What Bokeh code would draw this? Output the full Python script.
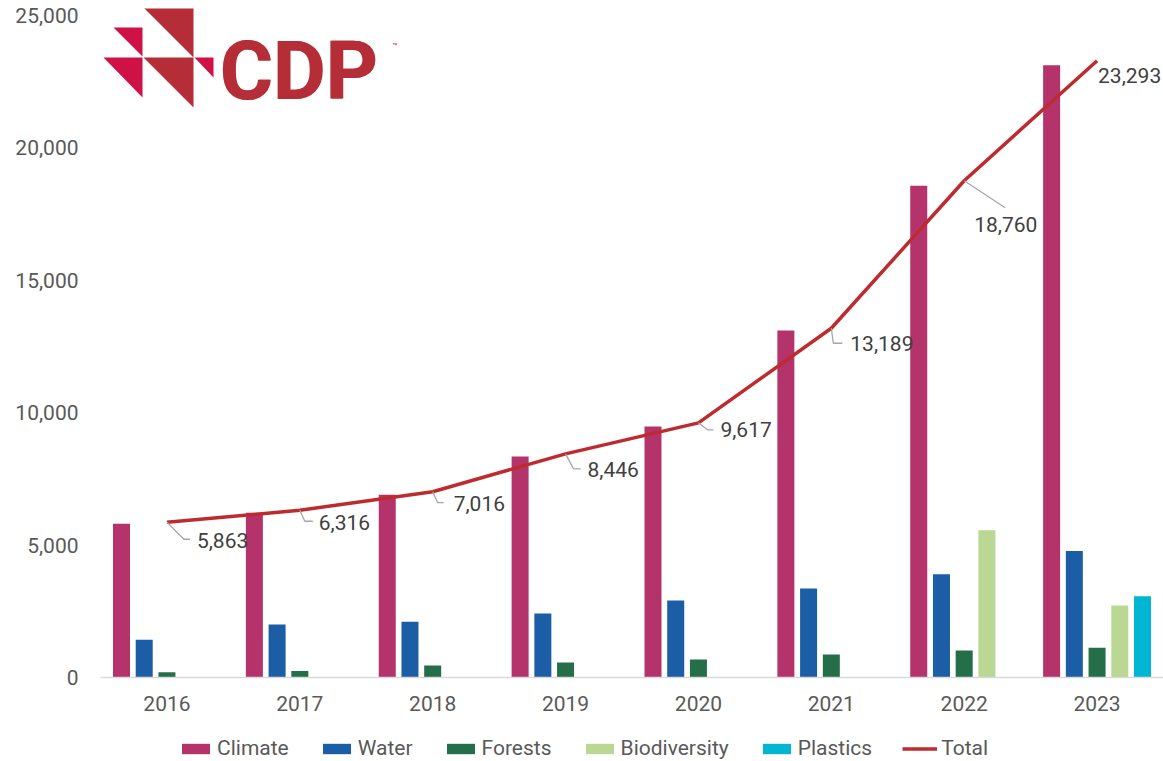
from bokeh.plotting import figure
from bokeh.layouts import column
from bokeh.models import (Range1d, FixedTicker, NumeralTickFormatter, Legend, LegendItem,
                          ColumnDataSource, CustomJSTickFormatter)
from bokeh.embed import file_html
from bokeh.resources import INLINE
from bokeh.core.properties import value

# ---------------- data ----------------
years = ["2016", "2017", "2018", "2019", "2020", "2021", "2022", "2023"]
climate = [5810, 6220, 6900, 8350, 9480, 13100, 18570, 23120]
water = [1430, 2000, 2110, 2420, 2910, 3360, 3900, 4780]
forests = [200, 250, 450, 570, 680, 870, 1020, 1120]
biodiversity = [0, 0, 0, 0, 0, 0, 5560, 2720]
plastics = [0, 0, 0, 0, 0, 0, 0, 3070]
total = [5863, 6316, 7016, 8446, 9617, 13189, 18760, 23293]
y_ticks = [0, 5000, 10000, 15000, 20000, 25000]

# ---------------- styles ----------------
series = [("Climate", climate, "#B4336A"),
          ("Water", water, "#1B5EA6"),
          ("Forests", forests, "#246F49"),
          ("Biodiversity", biodiversity, "#BAD894"),
          ("Plastics", plastics, "#00B6D2")]
TOTAL_COLOR = "#BE2B2F"
FONT = "Roboto"
TXT = "#404040"
TICK = "#595959"

W, H = 1163, 728
LEG_H = 761 - H
ML, MB, MT, MR = 100, H - 677, 8, 0
FW, FH = W - ML - MR, H - MB - MT
Y_TOP = 25000 * FH / (FH - 7)
PX_X = 8 / FW          # data units per pixel (x)
PX_Y = Y_TOP / FH      # data units per pixel (y)

# label offsets (pixels, y downwards): label dx, dy ; leader corner a, end b
label_dx = [30, 19, 21, 22, 22, 19, 10, 1]
label_dy = [18, 12, 12, 16, 7, 15, 44, 15]
lead_a = [(17, 17), (5, 11), (5, 11), (8, 15), (9, 7), (2, 15), (41, 27), None]
lead_b = [(23, 17), (13, 11), (11, 11), (15, 15), (15, 7), (11, 15), (41, 27), None]

p = figure(width=W, height=H, x_range=Range1d(0, 8), y_range=Range1d(0, Y_TOP),
           output_backend="svg", toolbar_location=None,
           min_border_left=ML, min_border_right=MR, min_border_top=MT, min_border_bottom=MB)
p.xgrid.visible = False
p.ygrid.visible = False
p.outline_line_color = None
p.background_fill_color = "white"
p.border_fill_color = "white"

# ---------------- bars ----------------
STEP, BW = 0.171, 0.128
for j, (name, vals, col) in enumerate(series):
    xs, tops = [], []
    for i, v in enumerate(vals):
        if v > 0:
            xs.append(i + 0.5 + (j - 2) * STEP)
            tops.append(v)
    p.vbar(x=xs, top=tops, width=BW, color=col, line_color=None)

# ---------------- total line ----------------
cx = [i + 0.5 for i in range(len(years))]
p.line(cx, total, line_color=TOTAL_COLOR, line_width=3.5)

# leader lines
lxs, lys = [], []
for i, t in enumerate(total):
    a, b = lead_a[i], lead_b[i]
    if a is None:
        continue
    lxs.append([cx[i], cx[i] + a[0] * PX_X, cx[i] + b[0] * PX_X])
    lys.append([t, t - a[1] * PX_Y, t - b[1] * PX_Y])
p.multi_line(lxs, lys, line_color="#A6A6A6", line_width=1.3)

src = ColumnDataSource(dict(x=cx, y=total, t=[f"{v:,}" for v in total],
                            dx=label_dx, dy=label_dy))
p.text(x="x", y="y", text="t", x_offset="dx", y_offset="dy", source=src,
       text_font=value(FONT), text_font_size="21px", text_color=TXT,
       text_align="left", text_baseline="middle")

# ---------------- CDP logo (decoration) ----------------
def dx(sx):
    return (sx - ML) * PX_X

def dy(sy):
    return (677 - sy) * PX_Y

tri_dark = [[(143, 7), (193, 7), (193, 57)], [(143, 57), (193, 57), (193, 107)]]
tri_pink = [[(113, 27), (142, 27), (142, 56)], [(103, 57), (142, 57), (142, 97)],
            [(194, 57), (213, 57), (213, 77)]]
p.patches([[dx(a) for a, b in t] for t in tri_dark], [[dy(b) for a, b in t] for t in tri_dark],
          color="#B52D36", line_color=None)
p.patches([[dx(a) for a, b in t] for t in tri_pink], [[dy(b) for a, b in t] for t in tri_pink],
          color="#D01145", line_color=None)
for off in (0, 1):
    p.text(x=[dx(219 + off)], y=[dy(71)], text=["CDP"], text_font=value("Roboto"),
           text_font_style="bold", text_font_size="81px", text_color="#B52D36",
           text_align="left", text_baseline="alphabetic")
p.text(x=[dx(392)], y=[dy(46)], text=["™"], text_font=value(FONT),
       text_font_size="8px", text_color="#B52D36", text_align="left", text_baseline="middle")

# ---------------- axes ----------------
yax = p.yaxis[0]
yax.ticker = FixedTicker(ticks=y_ticks)
yax.formatter = NumeralTickFormatter(format="0,0")
yax.axis_line_color = None
yax.major_tick_line_color = None
yax.minor_tick_line_color = None
yax.major_tick_out = 0
yax.major_label_standoff = 22
yax.major_label_text_font = FONT
yax.major_label_text_font_size = "21px"
yax.major_label_text_color = TICK

xax = p.xaxis[0]
xax.ticker = FixedTicker(ticks=cx)
xax.formatter = CustomJSTickFormatter(args=dict(labels=years),
                                      code="return labels[Math.round(tick - 0.5)];")
xax.axis_line_color = "#D9D9D9"
xax.axis_line_width = 1.5
xax.major_tick_line_color = None
xax.minor_tick_line_color = None
xax.major_tick_out = 0
xax.major_label_standoff = 18
xax.major_label_text_font = FONT
xax.major_label_text_font_size = "21px"
xax.major_label_text_color = TICK

# ---------------- legend (separate strip below the chart) ----------------
pl = figure(width=W, height=LEG_H, x_range=Range1d(0, 1), y_range=Range1d(0, 1),
            output_backend="svg", toolbar_location=None,
            x_axis_location=None, y_axis_location=None,
            min_border_left=ML, min_border_right=0, min_border_top=0, min_border_bottom=0)
pl.xgrid.visible = False
pl.ygrid.visible = False
pl.outline_line_color = None
pl.border_fill_color = "white"

# legend proxies: one point each, placed outside the visible range of the strip
items = []
for name, vals, col in series:
    r = pl.vbar(x=[5], top=[5], bottom=[4], width=0.1, color=col, line_color=None)
    items.append(LegendItem(label=name, renderers=[r]))
rl = pl.line(x=[5, 6], y=[5, 5], line_color=TOTAL_COLOR, line_width=3.5)
items.append(LegendItem(label="Total", renderers=[rl]))

legend = Legend(items=items, orientation="horizontal", location=(178 - ML, 1),
                glyph_width=35, glyph_height=13, label_standoff=4, spacing=30,
                padding=0, margin=0, border_line_color=None, background_fill_alpha=0,
                label_text_font=FONT, label_text_font_size="21px", label_text_color=TICK,
                label_height=16)
pl.add_layout(legend)

open("out.html", "w").write(file_html(column(p, pl, spacing=0), INLINE))
